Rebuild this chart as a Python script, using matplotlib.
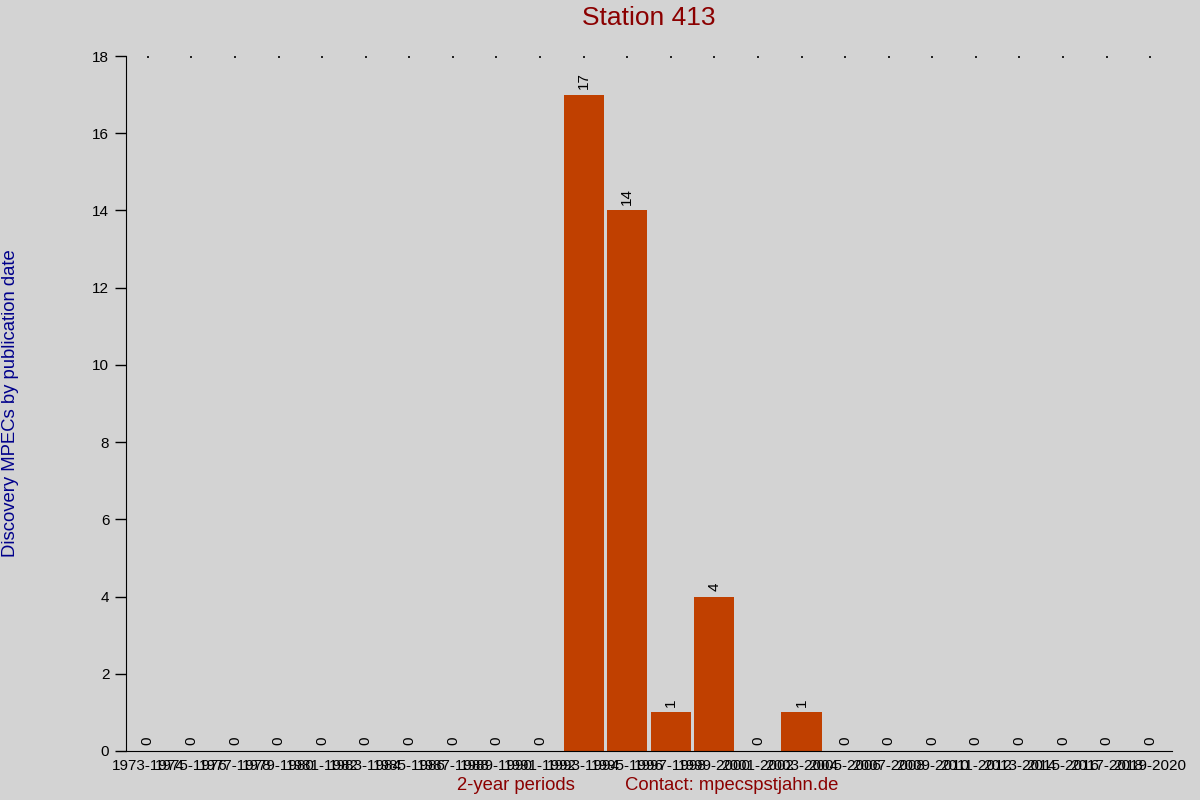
import matplotlib
matplotlib.use("Agg")
import matplotlib.pyplot as plt

plt.rcParams['font.family'] = ['Liberation Sans', 'DejaVu Sans']

periods = [f"{y}-{y+1}" for y in range(1973, 2021, 2)]
values = [0, 0, 0, 0, 0, 0, 0, 0, 0, 0, 17, 14, 1, 4, 0, 1, 0, 0, 0, 0, 0, 0, 0, 0]

bg = '#D3D3D3'
fig = plt.figure(figsize=(12, 8), dpi=100, facecolor=bg)
ax = fig.add_axes([126/1200, 49/800, (1172-126)/1200, (751-56)/800])
ax.set_facecolor(bg)

x = list(range(len(periods)))
ax.bar(x, values, width=0.92, color='#C04000', zorder=2)
for xi, v in zip(x, values):
    ax.text(xi, v + 0.15, str(v), rotation=90, ha='center', va='bottom',
            fontsize=11, color='black')

ax.set_xlim(-0.5, len(periods) - 0.5)
ax.set_ylim(0, 18)
ax.set_yticks(range(0, 19, 2))
ax.set_xticks(x)
ax.set_xticklabels(periods, fontsize=11)
ax.tick_params(axis='x', bottom=False, top=True, length=1.2, width=1.2, pad=6, direction='in')
ax.tick_params(axis='y', length=8, width=1, labelsize=11, pad=4)
for s in ['top', 'right']:
    ax.spines[s].set_visible(False)

fig.text(649/1200, 1 - 18/800, 'Station 413', ha='center', va='center',
         fontsize=19, color='#8B0000')
fig.text(11/1200, 1 - 403/800, 'Discovery MPECs by publication date', rotation=90,
         ha='center', va='center', fontsize=13.3, color='#00008B')
fig.text(516/1200, 1 - 786/800, '2-year periods', ha='center', va='center',
         fontsize=13.3, color='#8B0000')
fig.text(732/1200, 1 - 786/800, 'Contact: mpecspstjahn.de', ha='center', va='center',
         fontsize=13.3, color='#8B0000')

fig.savefig('out.png', dpi=100, facecolor=bg)
